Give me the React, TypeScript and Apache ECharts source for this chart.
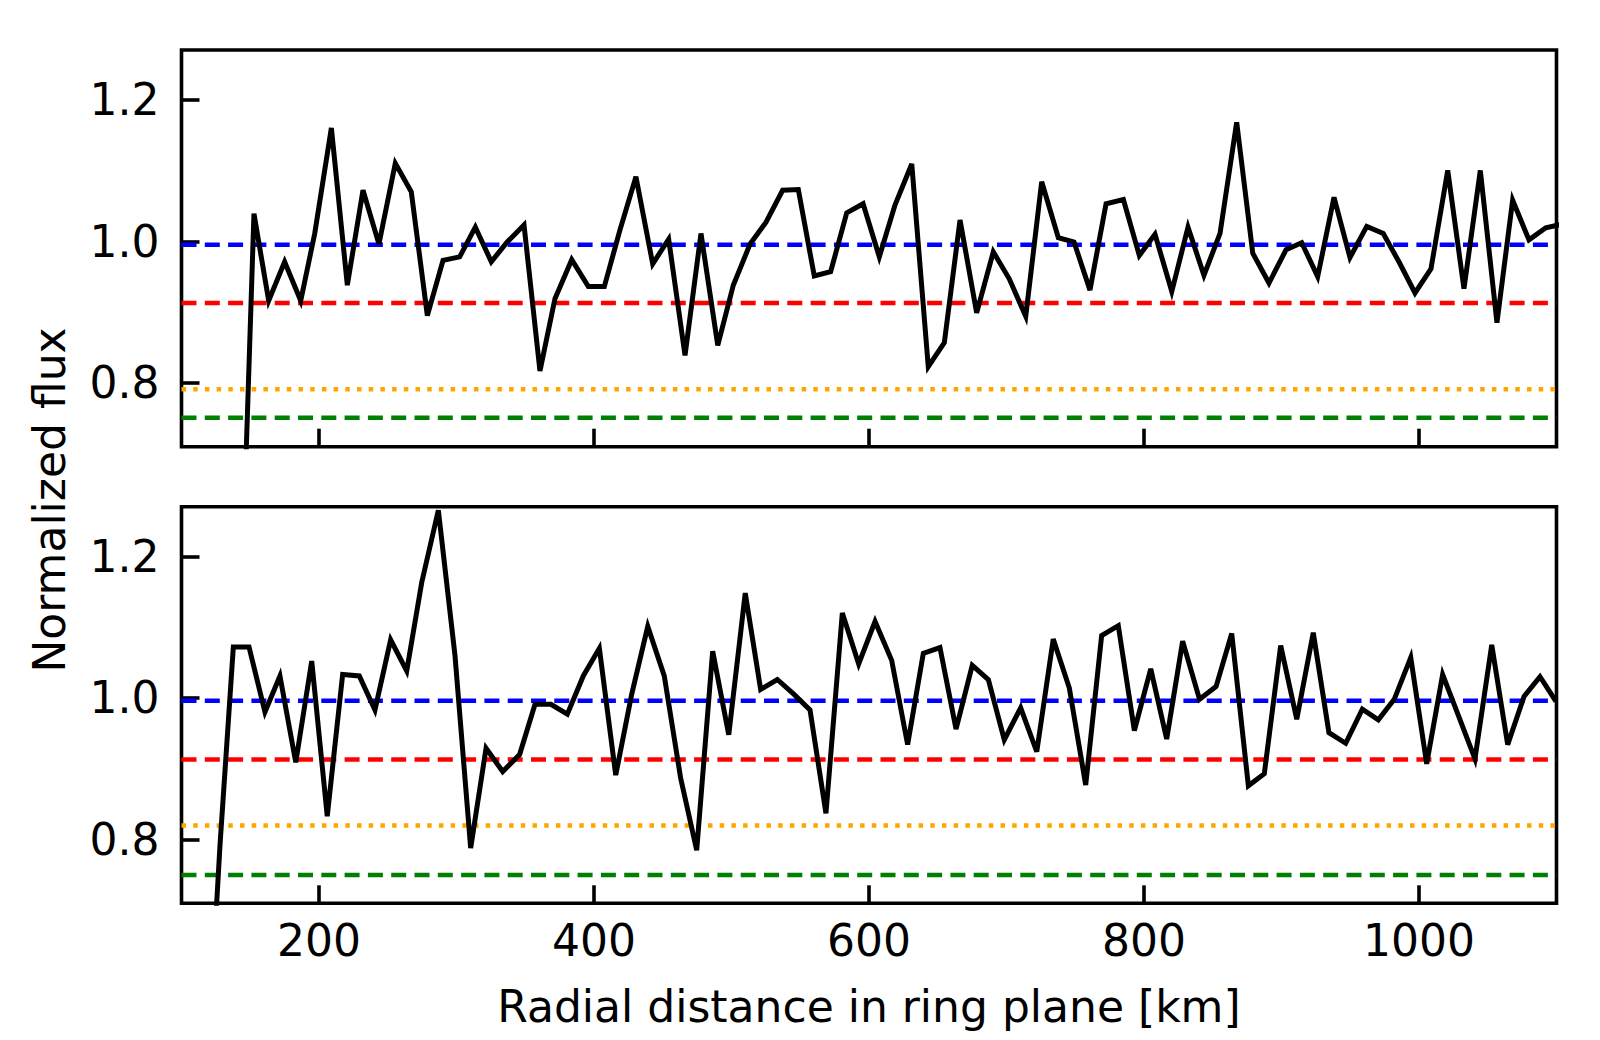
import React, { useEffect, useRef } from "react";
import * as echarts from "echarts";

// Axis settings
const X_MIN = 100;
const X_MAX = 1100;
const Y_MIN = 0.71;
const Y_MAX = 1.27;
const X_TICKS = [200, 400, 600, 800, 1000];
const Y_TICKS = [0.8, 1.0, 1.2];

// Top panel
const topDistance = [
  141.1, 152.7, 163.4, 175.0, 186.7, 196.9, 209.0, 220.6, 232.0, 243.6, 255.5, 267.1,
  278.8, 290.2, 302.3, 313.7, 325.3, 336.9, 349.1, 360.7, 371.6, 383.8, 395.9, 407.5,
  418.9, 430.5, 442.7, 454.3, 466.2, 477.8, 490.0, 501.3, 513.5, 525.1, 537.2, 548.6,
  560.2, 572.1, 583.8, 595.7, 607.5, 618.9, 631.1, 643.1, 654.8, 666.2, 678.3, 690.4,
  702.0, 714.0, 725.6, 737.7, 749.1, 760.7, 772.4, 785.0, 796.6, 808.0, 820.2, 832.0,
  843.6, 855.3, 867.4, 879.1, 890.9, 903.3, 914.7, 926.3, 938.2, 949.8, 962.0, 974.0,
  985.7, 997.1, 1008.7, 1020.9, 1032.7, 1044.6, 1056.7, 1068.1, 1080.0, 1092.2, 1103.9,
];
const topFlux = [
  0.35, 1.039, 0.916, 0.971, 0.916, 1.011, 1.16, 0.938, 1.072, 0.996, 1.11, 1.07,
  0.895, 0.973, 0.978, 1.02, 0.971, 0.999, 1.023, 0.817, 0.919, 0.974, 0.936, 0.936,
  1.016, 1.091, 0.968, 1.003, 0.839, 1.011, 0.853, 0.938, 0.996, 1.027, 1.072, 1.073,
  0.951, 0.957, 1.04, 1.053, 0.978, 1.051, 1.109, 0.823, 0.857, 1.03, 0.899, 0.985,
  0.947, 0.894, 1.084, 1.005, 0.999, 0.931, 1.053, 1.059, 0.98, 1.01, 0.929, 1.02,
  0.952, 1.011, 1.168, 0.983, 0.941, 0.988, 0.998, 0.95, 1.062, 0.977, 1.021, 1.011,
  0.97, 0.927, 0.961, 1.1, 0.933, 1.1, 0.885, 1.058, 1.002, 1.019, 1.024,
];
const topLevels = { blue: 0.995, red: 0.913, orange: 0.791, green: 0.751 };

// Bottom panel
const bottomDistance = [
  116.4, 128.0, 137.7, 149.1, 160.7, 171.6, 183.1, 194.7, 206.0, 217.2, 229.3, 240.7,
  252.1, 263.8, 274.7, 286.8, 298.9, 310.3, 321.5, 333.6, 345.9, 357.1, 368.7, 380.6,
  392.2, 403.9, 415.8, 427.4, 439.1, 451.1, 463.0, 474.7, 486.3, 498.0, 510.0, 521.2,
  533.3, 545.5, 557.1, 568.7, 580.6, 592.5, 604.4, 616.5, 628.1, 639.5, 651.6, 663.3,
  675.1, 686.8, 698.4, 710.3, 722.0, 734.0, 745.7, 757.6, 769.2, 781.3, 793.0, 804.9,
  816.5, 828.1, 840.4, 852.4, 863.8, 875.9, 887.5, 899.4, 911.1, 923.1, 934.5, 946.7,
  958.8, 970.4, 982.0, 994.0, 1005.6, 1017.2, 1029.1, 1040.7, 1052.9, 1064.5, 1076.4,
  1088.0, 1099.6,
];
const bottomFlux = [
  0.4, 0.792, 1.072, 1.072, 0.98, 1.031, 0.909, 1.052, 0.833, 1.033, 1.031, 0.983,
  1.082, 1.038, 1.163, 1.265, 1.06, 0.788, 0.929, 0.896, 0.92, 0.991, 0.991, 0.977,
  1.031, 1.07, 0.891, 1.005, 1.101, 1.031, 0.887, 0.785, 1.066, 0.948, 1.148, 1.012,
  1.026, 1.005, 0.983, 0.837, 1.12, 1.048, 1.108, 1.053, 0.934, 1.063, 1.071, 0.956,
  1.046, 1.026, 0.941, 0.986, 0.924, 1.083, 1.014, 0.877, 1.088, 1.102, 0.954, 1.041,
  0.942, 1.08, 0.998, 1.016, 1.091, 0.876, 0.893, 1.074, 0.97, 1.092, 0.951, 0.936,
  0.984, 0.969, 0.998, 1.057, 0.907, 1.033, 0.973, 0.914, 1.075, 0.934, 1.002,
  1.03, 0.995,
];
const bottomLevels = { blue: 0.996, red: 0.913, orange: 0.82, green: 0.75 };

const X_LABEL = "Radial distance in ring plane [km]";
const Y_LABEL = "Normalized flux";

const FONT = "DejaVu Sans";
const FONT_SIZE = 44;

const levelStyles: Record<string, { color: string; type: number[] }> = {
  blue: { color: "#0000ff", type: [15, 8.3] },
  red: { color: "#ff0000", type: [15, 8.3] },
  orange: { color: "#ffa500", type: [4.5, 7.2] },
  green: { color: "#008000", type: [15, 8.3] },
};

function zip(xs: number[], ys: number[]) {
  return xs.map((x, i) => [x, ys[i]]);
}

function buildOption() {
  const grids = [
    { left: 181.5, right: 43.5, top: 50, height: 396.7 },
    { left: 181.5, right: 43.5, top: 506.7, height: 396.6 },
  ].map((g) => ({
    ...g,
    show: true,
    borderColor: "#000",
    borderWidth: 3.6,
    backgroundColor: "transparent",
    containLabel: false,
  }));

  const tickStyle = { show: true, inside: true, length: 18, lineStyle: { color: "#000", width: 3.6 } };

  const xAxes = [0, 1].map((i) => ({
    type: "value",
    gridIndex: i,
    min: X_MIN,
    max: X_MAX,
    axisLine: { show: false },
    axisTick: { ...tickStyle, customValues: X_TICKS },
    axisLabel: {
      show: i === 1,
      customValues: X_TICKS,
      formatter: (v: number) => String(v),
      color: "#000",
      fontFamily: FONT,
      fontSize: FONT_SIZE,
      margin: 15,
    },
    splitLine: { show: false },
  }));

  const yAxes = [0, 1].map((i) => ({
    type: "value",
    gridIndex: i,
    min: Y_MIN,
    max: Y_MAX,
    axisLine: { show: false },
    axisTick: { ...tickStyle, customValues: Y_TICKS },
    axisLabel: {
      show: true,
      customValues: Y_TICKS,
      formatter: (v: number) => v.toFixed(1),
      color: "#000",
      fontFamily: FONT,
      fontSize: FONT_SIZE,
      margin: 22,
    },
    splitLine: { show: false },
  }));

  const series: any[] = [];
  const panels = [
    { xs: topDistance, ys: topFlux, levels: topLevels },
    { xs: bottomDistance, ys: bottomFlux, levels: bottomLevels },
  ];
  panels.forEach((p, i) => {
    Object.entries(p.levels).forEach(([name, val]) => {
      const st = levelStyles[name];
      series.push({
        type: "line",
        xAxisIndex: i,
        yAxisIndex: i,
        data: [
          [X_MIN, val],
          [X_MAX, val],
        ],
        symbol: "none",
        silent: true,
        z: 2,
        lineStyle: { color: st.color, width: 4.5, type: st.type, cap: "butt" },
      });
    });
    series.push({
      type: "line",
      xAxisIndex: i,
      yAxisIndex: i,
      data: zip(p.xs, p.ys),
      symbol: "none",
      showSymbol: false,
      clip: true,
      z: 3,
      lineStyle: { color: "#000", width: 5, join: "miter" },
    });
  });

  return {
    animation: false,
    backgroundColor: "#fff",
    grid: grids,
    xAxis: xAxes,
    yAxis: yAxes,
    series,
    graphic: [
      {
        type: "text",
        x: 869,
        y: 1006,
        style: {
          text: X_LABEL,
          fill: "#000",
          fontFamily: FONT,
          fontSize: FONT_SIZE,
          align: "center",
          verticalAlign: "middle",
          textAlign: "center",
          textVerticalAlign: "middle",
        },
      },
      {
        type: "text",
        x: 49,
        y: 500,
        rotation: Math.PI / 2,
        style: {
          text: Y_LABEL,
          fill: "#000",
          fontFamily: FONT,
          fontSize: FONT_SIZE,
          align: "center",
          verticalAlign: "middle",
          textAlign: "center",
          textVerticalAlign: "middle",
        },
      },
    ],
  };
}

export default function App() {
  const ref = useRef<HTMLDivElement>(null);
  useEffect(() => {
    document.body.style.margin = "0";
    const chart = echarts.init(ref.current as HTMLDivElement, null, { renderer: "svg" });
    chart.setOption(buildOption() as any);
    return () => chart.dispose();
  }, []);
  return <div ref={ref} style={{ width: 1600, height: 1040 }} />;
}
